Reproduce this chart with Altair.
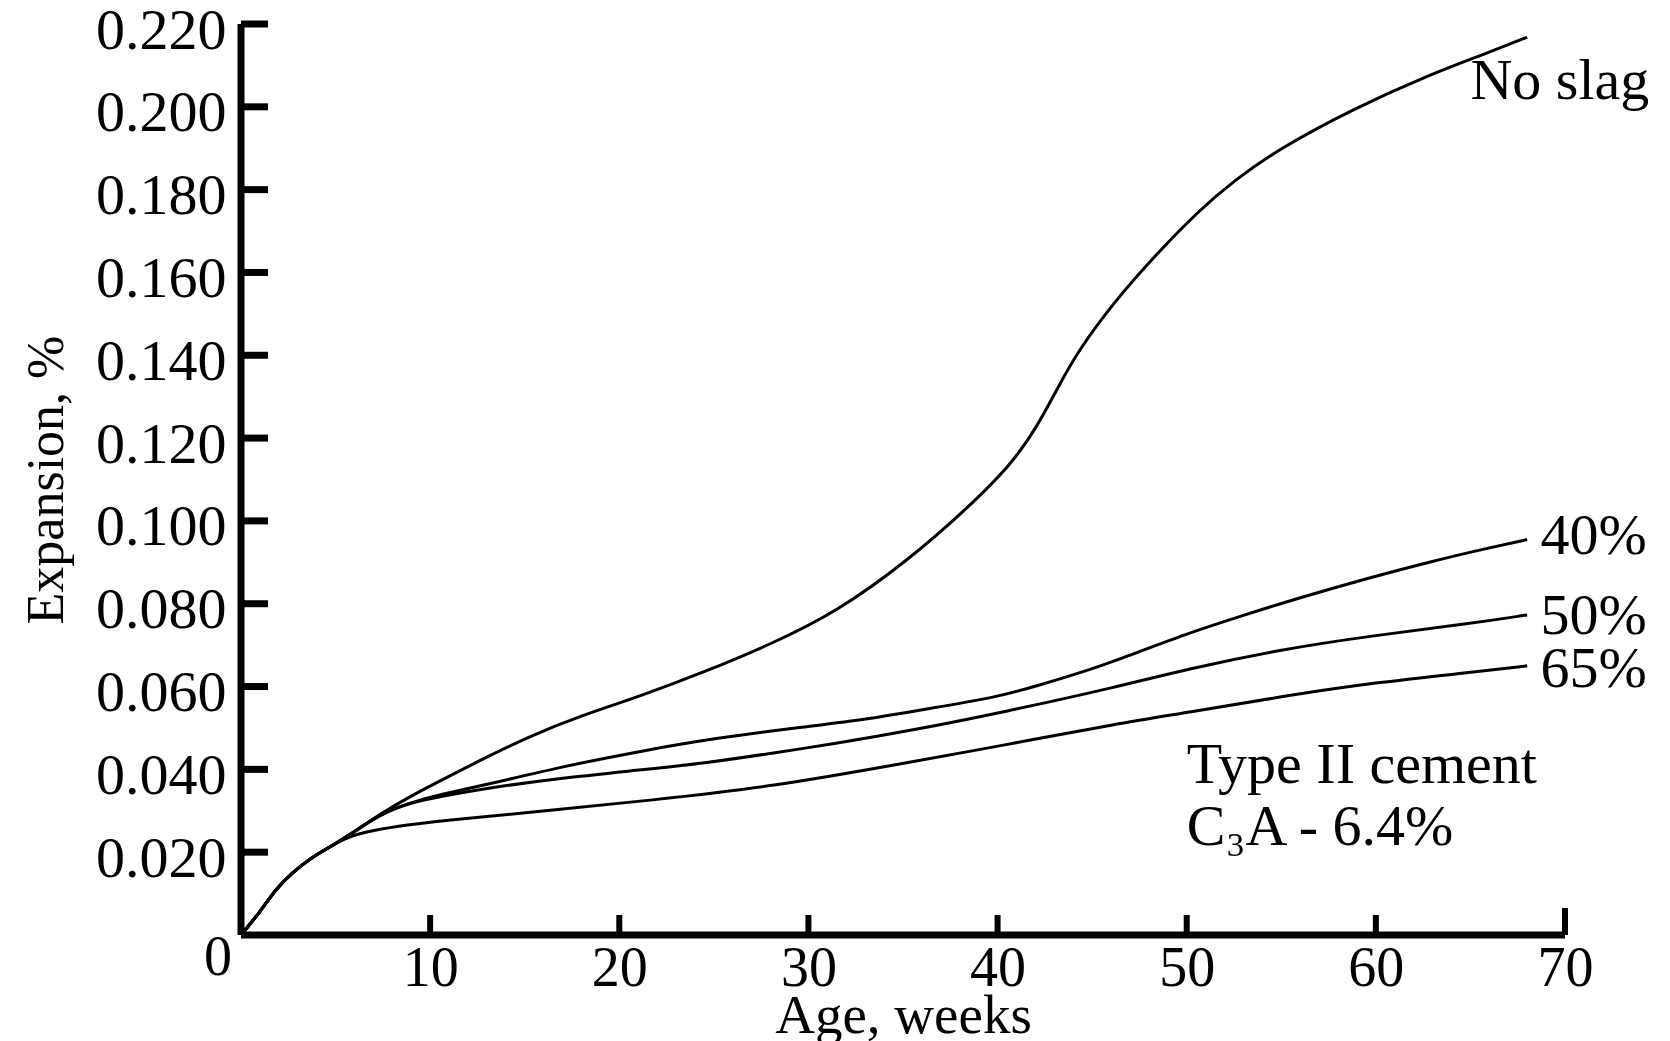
import altair as alt
import pandas as pd

# ---- data ----
series_names = ["No slag", "40%", "50%", "65%"]

noslag_w = [0, 1, 1.8, 2.7, 3.7, 4.6, 5.5, 7.4, 9, 10.6, 13, 15.2, 18, 21, 24.5, 28.1, 31.5,
            35.3, 38.3, 40.8, 42.2, 43.3, 44.3, 46.1, 48.2, 50.7, 52.5, 55, 58.8, 62.7, 65.6, 68]
noslag_e = [0, 0.0055, 0.0109, 0.015, 0.0186, 0.021, 0.0234, 0.0294, 0.0336, 0.0374, 0.043,
            0.0479, 0.053, 0.0575, 0.0635, 0.0704, 0.078, 0.0906, 0.1026, 0.1139, 0.1236,
            0.1332, 0.1413, 0.1525, 0.1635, 0.1752, 0.1822, 0.1902, 0.1995, 0.2075, 0.2125, 0.2168]

s40_w = [0, 1, 1.8, 2.7, 3.7, 4.6, 5.5, 7.4, 9, 10.6, 12.9, 16.9, 21, 25, 29.8, 33, 36.9, 40,
         42.2, 44.5, 46.4, 50, 53, 56, 59.6, 63, 66, 68]
s40_e = [0, 0.0055, 0.0109, 0.015, 0.0186, 0.021, 0.0234, 0.0294, 0.032, 0.034, 0.0362,
         0.0406, 0.0443, 0.0475, 0.0503, 0.052, 0.0551, 0.0575, 0.0603, 0.0635, 0.0665,
         0.0728, 0.0772, 0.0815, 0.0862, 0.0903, 0.0935, 0.0955]

s50_w = [0, 1, 1.8, 2.7, 3.7, 4.6, 5.5, 7.4, 9, 10.6, 12.9, 16.9, 21, 24.5, 28.1, 31.5, 35.1,
         40.4, 46.4, 50, 55, 60, 65, 68]
s50_e = [0, 0.0055, 0.0109, 0.015, 0.0186, 0.021, 0.0234, 0.0294, 0.032, 0.0335, 0.0354,
         0.0379, 0.0398, 0.0415, 0.0439, 0.0463, 0.0491, 0.0539, 0.06, 0.0642, 0.069,
         0.0724, 0.0752, 0.0773]

s65_w = [0, 1, 1.8, 2.7, 3.7, 4.6, 5.5, 6.5, 8.1, 10.6, 16.1, 21.6, 28.1, 35.1, 40.4, 46.4,
         50, 55, 60, 65, 68]
s65_e = [0, 0.0055, 0.0109, 0.015, 0.0186, 0.021, 0.0234, 0.0248, 0.0262, 0.0276, 0.03,
         0.0325, 0.0358, 0.0415, 0.0459, 0.0511, 0.0537, 0.0576, 0.061, 0.0634, 0.065]

x_tick_values = [10, 20, 30, 40, 50, 60]
x_end_tick = [70]
y_tick_values = [0.02, 0.04, 0.06, 0.08, 0.10, 0.12, 0.14, 0.16, 0.18, 0.20, 0.22]
x_label_values = [10, 20, 30, 40, 50, 60, 70]

curve_labels = ["No slag", "40%", "50%", "65%"]
curve_label_x = [65.0, 68.7, 68.7, 68.7]
curve_label_y = [0.2019, 0.092, 0.0727, 0.0599]

note_lines = ["Type II cement", "C\u2083A - 6.4%"]
note_x = [50.0, 50.0]
note_y = [0.0367, 0.0217]

# ---- build tables ----
rows = []
for name, ws, es in zip(series_names, [noslag_w, s40_w, s50_w, s65_w],
                        [noslag_e, s40_e, s50_e, s65_e]):
    for w, e in zip(ws, es):
        rows.append({"series": name, "week": w, "exp": e})
df = pd.DataFrame(rows)

W, H = 1324, 911
FONT = "Liberation Serif"
xscale = alt.Scale(domain=[0, 70], nice=False, zero=True)
yscale = alt.Scale(domain=[0, 0.22], nice=False, zero=True)

x_axis = alt.Axis(values=x_label_values, format="d", domain=False, ticks=False,
                  tickSize=0, grid=False, labelFlush=False, labelOverlap=False,
                  labelFont=FONT, labelFontSize=56, labelColor="black",
                  labelPadding=6, title="Age, weeks", titleFont=FONT,
                  titleFontSize=55, titleFontWeight="normal", titleColor="black",
                  titlePadding=-7)
y_axis = alt.Axis(values=y_tick_values, format=".3f", domain=False, ticks=False,
                  tickSize=0, grid=False, labelOverlap=False, labelOffset=7,
                  labelFont=FONT, labelFontSize=58, labelColor="black",
                  labelPadding=15, title="Expansion, %", titleFont=FONT,
                  titleFontSize=52, titleFontWeight="normal", titleColor="black",
                  titlePadding=22)


def X(field):
    return alt.X(field, scale=xscale, axis=x_axis, title="Age, weeks")


def Y(field):
    return alt.Y(field, scale=yscale, axis=y_axis, title="Expansion, %")


lines = alt.Chart(df).mark_line(color="black", strokeWidth=3, interpolate="basis").encode(
    x=X("week:Q"), y=Y("exp:Q"), detail="series:N",
)

frame = pd.DataFrame({"x": [0, 0], "y": [0, 0], "x2": [70, 0], "y2": [0, 0.22]})
axis_lines = alt.Chart(frame).mark_rule(color="black", strokeWidth=7).encode(
    x=X("x:Q"), y=Y("y:Q"), x2="x2:Q", y2="y2:Q",
)

yticks = alt.Chart(pd.DataFrame({"v": y_tick_values})).mark_rule(
    color="black", strokeWidth=7).encode(
    y=Y("v:Q"), x=alt.value(0), x2=alt.value(27))

xticks = alt.Chart(pd.DataFrame({"v": x_tick_values})).mark_rule(
    color="black", strokeWidth=6).encode(
    x=X("v:Q"), y=alt.value(H), y2=alt.value(H - 20))

xend = alt.Chart(pd.DataFrame({"v": x_end_tick})).mark_rule(
    color="black", strokeWidth=6).encode(
    x=X("v:Q"), y=alt.value(H), y2=alt.value(H - 27))

zero_lbl = alt.Chart(pd.DataFrame({"x": [0], "y": [0], "t": ["0"]})).mark_text(
    font=FONT, fontSize=56, color="black", align="right", baseline="top", dx=-9, dy=-4
).encode(x=X("x:Q"), y=Y("y:Q"), text="t:N")

clabels = alt.Chart(pd.DataFrame({"x": curve_label_x, "y": curve_label_y, "t": curve_labels})
                    ).mark_text(font=FONT, fontSize=58, color="black", align="left",
                                baseline="alphabetic").encode(
    x=X("x:Q"), y=Y("y:Q"), text="t:N")

notes = alt.Chart(pd.DataFrame({"x": note_x, "y": note_y, "t": note_lines})).mark_text(
    font=FONT, fontSize=58, color="black", align="left", baseline="alphabetic").encode(
    x=X("x:Q"), y=Y("y:Q"), text="t:N")

chart = alt.layer(lines, axis_lines, yticks, xticks, xend, zero_lbl, clabels, notes).properties(
    width=W, height=H,
    padding={"left": 233, "top": 16, "right": 85, "bottom": 110},
    autosize=alt.AutoSizeParams(type="none"),
    background="white",
).configure_view(stroke=None)

chart.save("out.html", embed_options={"renderer": "svg", "actions": False})
